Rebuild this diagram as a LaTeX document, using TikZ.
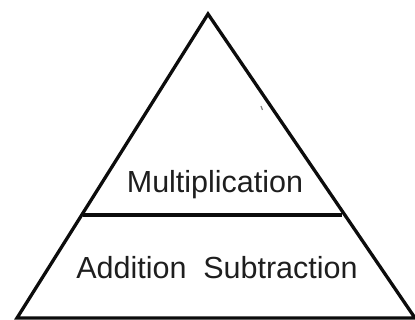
\documentclass[tikz,border=0pt]{standalone}
\usepackage{fontspec}
\setmainfont{Liberation Sans}
\definecolor{inkA}{RGB}{12, 12, 12}
\definecolor{textA}{RGB}{30, 30, 30}
\usetikzlibrary{positioning}

\begin{document}
\begin{tikzpicture}[x=1pt, y=-1pt, line width=3.3pt, line join=miter]

\useasboundingbox (0,0) rectangle (415,320);

%%% PYRAMID
\draw[inkA] (17,318) -- (208,14) -- (415,318) -- cycle;

%%% LEVEL LINE
\draw[inkA] (83,215) -- (342,215);

%\draw[gray, dashed] (0,182) -- (415,182);

\fontsize{30.5}{0}\selectfont

%%% TOP LEVEL
\node[textA] (mult) at (215,185) {Multiplication};

%%% BOTTOM LEVEL
\node[textA] (addsub) at (217,268) {Addition\hspace{0.55em}Subtraction};

%%% PEN MARK
\draw[gray, line width=1.2pt] (261,106) -- (262.5,110);

\end{tikzpicture}
\end{document}
